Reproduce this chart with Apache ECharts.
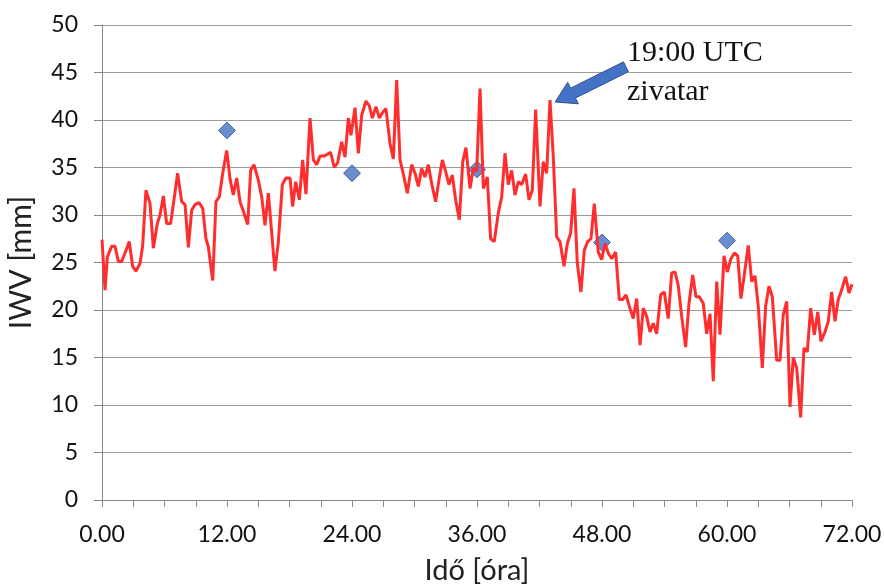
<!DOCTYPE html>
<html><head><meta charset="utf-8">
<script src="https://cdn.jsdelivr.net/npm/echarts@6/dist/echarts.min.js"></script>
<style>html,body{margin:0;padding:0;background:#fff}#c{width:884px;height:587px}</style>
</head><body><div id="c"></div>
<script>
// GPS IWV time series (hours, mm)
const hours = [0.0,0.29,0.51,0.93,1.25,1.57,1.89,2.21,2.62,2.94,3.26,3.65,3.9,4.22,4.61,4.93,5.31,5.57,5.89,6.21,6.59,6.91,7.26,7.65,7.97,8.29,8.61,8.93,9.31,9.67,9.98,10.2,10.63,10.94,11.26,11.59,11.97,12.29,12.6,12.93,13.25,13.57,13.99,14.27,14.59,15.0,15.33,15.65,15.97,16.6,16.93,17.31,17.66,18.05,18.3,18.59,18.94,19.26,19.58,19.97,20.29,20.61,20.93,21.31,21.63,21.95,22.3,22.62,23.01,23.33,23.65,23.9,24.29,24.61,24.93,25.34,25.66,25.95,26.3,26.62,26.94,27.26,27.65,27.97,28.29,28.61,28.95,29.31,29.73,30.05,30.37,30.69,31.01,31.33,31.65,32.03,32.38,32.67,32.99,33.31,33.63,33.95,34.3,34.63,34.94,35.33,35.65,35.97,36.29,36.61,36.99,37.31,37.66,38.04,38.37,38.69,39.0,39.33,39.65,39.96,40.29,40.67,40.99,41.31,41.63,42.05,42.36,42.69,43.01,43.33,43.65,43.97,44.35,44.67,44.99,45.31,45.63,45.98,46.3,46.63,46.94,47.26,47.64,47.97,48.29,48.6,48.93,49.31,49.66,49.98,50.3,50.62,51.0,51.33,51.65,51.96,52.29,52.61,52.92,53.25,53.63,53.98,54.36,54.69,55.01,55.32,55.65,56.03,56.35,56.71,57.02,57.34,57.72,58.05,58.37,58.68,59.01,59.33,59.71,60.03,60.38,60.71,61.03,61.34,61.66,62.04,62.37,62.69,63.0,63.39,63.71,64.03,64.35,64.77,65.09,65.4,65.73,66.05,66.36,66.69,67.07,67.39,67.71,68.03,68.38,68.71,69.02,69.41,69.72,70.05,70.37,70.68,70.97,71.39,71.71,72.0];
const iwv = [27.4,22.1,25.6,26.7,26.7,25.1,25.1,26.0,27.2,24.6,24.1,24.9,26.7,32.6,31.2,26.5,29.1,30.0,32.0,29.1,29.1,31.6,34.4,31.4,31.1,26.6,30.5,31.1,31.3,30.7,27.5,26.7,23.1,31.4,31.9,34.4,36.8,33.8,32.1,33.9,31.4,30.4,29.0,34.7,35.3,33.7,31.9,28.9,32.3,24.1,27.2,33.2,33.9,33.9,30.9,33.5,31.6,35.8,32.2,40.2,35.8,35.3,36.2,36.2,36.4,36.6,35.0,35.5,37.7,36.1,40.2,38.4,41.3,36.5,40.5,42.0,41.5,40.2,41.4,40.2,40.8,41.2,37.5,35.9,44.2,35.8,34.2,32.3,35.3,34.4,33.0,34.9,34.0,35.3,33.3,31.4,33.9,35.8,34.6,33.2,34.2,31.6,29.5,35.6,37.1,32.8,34.9,34.6,43.3,32.8,34.0,27.5,27.2,30.2,31.9,36.5,33.2,34.7,32.1,33.5,33.2,34.3,31.6,32.6,41.1,30.9,35.6,34.4,42.1,36.0,27.7,27.2,24.6,27.0,28.1,32.8,24.9,21.9,26.3,27.2,27.5,31.2,26.1,25.3,27.0,26.0,25.4,26.1,21.1,21.1,21.6,20.4,19.1,21.2,16.3,20.2,19.3,17.7,18.6,17.5,21.6,21.9,19.1,23.9,24.0,22.6,19.3,16.1,20.7,23.7,21.4,21.4,20.7,17.5,19.6,12.5,23.0,17.4,25.7,24.0,25.4,26.0,25.7,21.2,23.7,26.8,23.0,23.6,20.4,13.9,20.4,22.5,21.4,14.7,14.7,19.5,20.9,9.8,15.0,13.9,8.7,16.0,15.6,20.2,17.4,19.8,16.7,17.7,18.8,21.9,18.8,21.1,22.0,23.5,21.8,22.7];
// 12-hourly reference values (diamonds)
const obsHours = [12, 24, 36, 48, 60];
const obsIwv = [38.9, 34.4, 34.8, 27.1, 27.3];
// axes
const xLabelHours = [0, 12, 24, 36, 48, 60, 72];
const yTicks = [0, 5, 10, 15, 20, 25, 30, 35, 40, 45, 50];
// annotation
const noteLines = ['19:00 UTC', 'zivatar'];
const noteAnchors = [[50.4, 47.05], [50.4, 42.95]];
const arrowTail = [50.3, 45.6];
const arrowTip = [43.5, 41.9];

const lineData = hours.map((h, i) => [h, iwv[i]]);
const obsData = obsHours.map((h, i) => [h, obsIwv[i]]);
const sans = 'Lato, "Open Sans", sans-serif';

const chart = echarts.init(document.getElementById('c'), null, {renderer: 'canvas'});
chart.setOption({
  animation: false,
  backgroundColor: '#fff',
  grid: {left: 102, right: 32, top: 25, bottom: 87, containLabel: false, outerBoundsMode: 'none'},
  xAxis: {
    type: 'value', min: 0, max: 72, interval: 3,
    name: 'Idő [óra]', nameLocation: 'middle', nameGap: 56,
    nameTextStyle: {fontFamily: sans, fontSize: 29, color: '#222'},
    axisLine: {show: true, onZero: false, lineStyle: {color: '#868686', width: 1}},
    axisTick: {show: true, length: 7, lineStyle: {color: '#868686'}},
    splitLine: {show: false},
    axisLabel: {
      margin: 23, fontFamily: sans, fontSize: 23, color: '#111',
      formatter: v => xLabelHours.indexOf(v) >= 0 ? v.toFixed(2) : ''
    }
  },
  yAxis: {
    type: 'value', min: yTicks[0], max: yTicks[yTicks.length - 1], interval: 5,
    name: 'IWV [mm]', nameLocation: 'middle', nameGap: 66, nameRotate: 90,
    nameTextStyle: {fontFamily: sans, fontSize: 30, color: '#222'},
    axisLine: {show: true, lineStyle: {color: '#868686', width: 1}},
    axisTick: {show: true, length: 8, lineStyle: {color: '#868686'}},
    splitLine: {show: true, lineStyle: {color: '#9c9c9c', width: 1}},
    axisLabel: {margin: 24, fontFamily: sans, fontSize: 23, color: '#111'}
  },
  series: [
    {
      type: 'scatter', data: obsData, symbol: 'diamond', symbolSize: 17, z: 2,
      itemStyle: {color: '#4472C4', borderColor: '#2F5597', borderWidth: 1}
    },
    {
      type: 'line', data: lineData, showSymbol: false, symbol: 'none', z: 3,
      lineStyle: {color: '#FF2D2D', width: 3}
    }
  ]
});

function drawAnnotation() {
  const t = chart.convertToPixel({gridIndex: 0}, arrowTip);
  const s = chart.convertToPixel({gridIndex: 0}, arrowTail);
  const dx = t[0] - s[0], dy = t[1] - s[1];
  const len = Math.sqrt(dx * dx + dy * dy);
  const d = [dx / len, dy / len];
  const n = [-d[1], d[0]];
  const L = 20, hw = 12, sw = 5.5;
  const b = [t[0] - d[0] * L, t[1] - d[1] * L];
  const pts = [
    [s[0] + n[0] * sw, s[1] + n[1] * sw],
    [b[0] + n[0] * sw, b[1] + n[1] * sw],
    [b[0] + n[0] * hw, b[1] + n[1] * hw],
    [t[0], t[1]],
    [b[0] - n[0] * hw, b[1] - n[1] * hw],
    [b[0] - n[0] * sw, b[1] - n[1] * sw],
    [s[0] - n[0] * sw, s[1] - n[1] * sw]
  ];
  const graphics = [{
    type: 'polygon', shape: {points: pts}, z: 10,
    style: {fill: '#4472C4', stroke: '#2F528F', lineWidth: 1}
  }];
  noteLines.forEach((txt, i) => {
    const p = chart.convertToPixel({gridIndex: 0}, noteAnchors[i]);
    graphics.push({
      type: 'text', x: p[0], y: p[1], z: 10,
      style: {text: txt, fontFamily: '"Liberation Serif", "DejaVu Serif", serif', fontSize: 30,
        fill: '#111', textAlign: 'left', textVerticalAlign: 'middle', verticalAlign: 'middle'}
    });
  });
  chart.setOption({graphic: graphics});
}
drawAnnotation();
</script>
</body></html>
